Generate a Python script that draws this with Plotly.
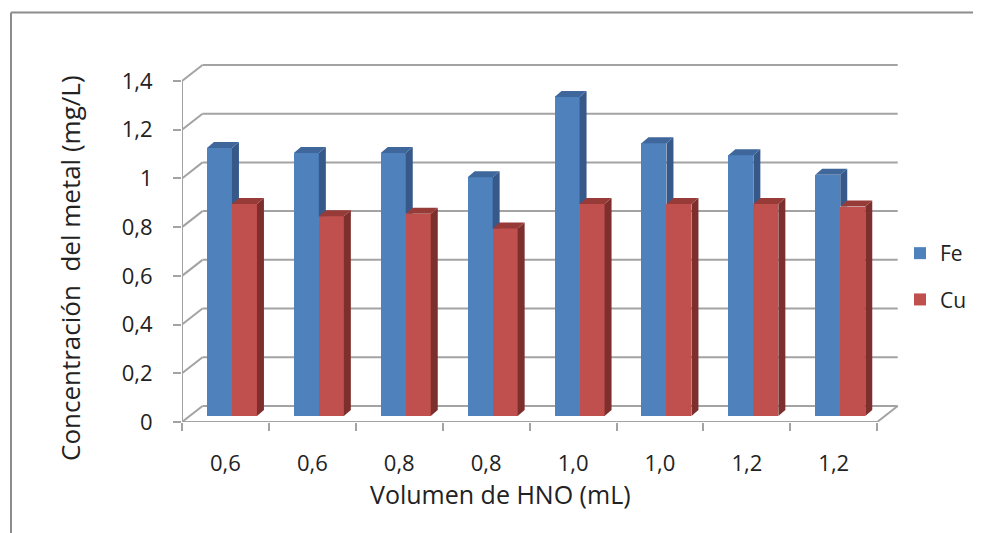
import plotly.graph_objects as go

# ---------------- data ----------------
categories = ["0,6", "0,6", "0,8", "0,8", "1,0", "1,0", "1,2", "1,2"]
fe_values = [1.10, 1.08, 1.08, 0.98, 1.31, 1.12, 1.07, 0.99]
cu_values = [0.87, 0.82, 0.83, 0.77, 0.87, 0.87, 0.87, 0.86]
y_ticks = [0, 0.2, 0.4, 0.6, 0.8, 1.0, 1.2, 1.4]
y_ticktext = ["0", "0,2", "0,4", "0,6", "0,8", "1", "1,2", "1,4"]
series_names = ["Fe", "Cu"]

# ---------------- layout geometry (pixels, page coordinates) ----------------
PAGE_W, PAGE_H = 981, 533
OFF = 8  # default body margin of the html page
W, H = PAGE_W - OFF, PAGE_H - OFF
L, R, T, B = 182, 902, 60, 422
CAT_PX = 86.9
VAL_PX = 243.6
x_range = [-0.5, -0.5 + (R - L) / CAT_PX]
y_range = [0, (B - T) / VAL_PX]

back_dx, back_dy = 20.5 / CAT_PX, 16 / VAL_PX
plane_dx, plane_dy = 6.5 / CAT_PX, 6 / VAL_PX
bar_w = 25 / CAT_PX
side_dx, side_dy = 7 / CAT_PX, 6 / VAL_PX

FONT = "Open Sans, Lato, sans-serif"
TXT = "#222222"
GRID = "#a3a3a3"

col_front = {"Fe": "#4F81BD", "Cu": "#C0504D"}
col_side = {"Fe": "#36598A", "Cu": "#7D2F2D"}
col_top = {"Fe": "#3F679B", "Cu": "#973B39"}


def px_x(p):
    return (p - L) / (R - L)


def px_y(p):
    return (B - p) / (B - T)


n = len(categories)
xs = list(range(n))
fe_x = [i + plane_dx - bar_w / 2 for i in xs]
cu_x = [i + plane_dx + bar_w / 2 for i in xs]

fig = go.Figure()

fig.add_trace(go.Bar(x=fe_x, y=fe_values, base=plane_dy, width=bar_w, name="Fe",
                     marker=dict(color=col_front["Fe"], line=dict(width=0)),
                     legendgroup="fe", hoverinfo="skip"))
fig.add_trace(go.Bar(x=cu_x, y=cu_values, base=plane_dy, width=bar_w, name="Cu",
                     marker=dict(color=col_front["Cu"], line=dict(width=0)),
                     legendgroup="cu", hoverinfo="skip"))


def poly(xp, yp, color):
    fig.add_trace(go.Scatter(x=xp + [xp[0]], y=yp + [yp[0]], mode="lines",
                             fill="toself", fillcolor=color,
                             line=dict(width=0, color=color),
                             showlegend=False, hoverinfo="skip"))


for i in xs:
    b = plane_dy
    xl, xr = fe_x[i] - bar_w / 2, fe_x[i] + bar_w / 2
    v, vc = fe_values[i], cu_values[i]
    ylow = b + min(vc, v)
    poly([xr, xr + side_dx, xr + side_dx, xr],
         [ylow, ylow, b + v + side_dy, b + v], col_side["Fe"])
    poly([xl, xl + side_dx, xr + side_dx, xr],
         [b + v, b + v + side_dy, b + v + side_dy, b + v], col_top["Fe"])
    xl, xr = cu_x[i] - bar_w / 2, cu_x[i] + bar_w / 2
    poly([xr, xr + side_dx, xr + side_dx, xr],
         [b, b + side_dy, b + vc + side_dy, b + vc], col_side["Cu"])
    poly([xl, xl + side_dx, xr + side_dx, xr],
         [b + vc, b + vc + side_dy, b + vc + side_dy, b + vc], col_top["Cu"])

shapes = []
line_style = dict(color=GRID, width=2)
x_lo, x_hi = -0.5, n - 0.5
for t in y_ticks:
    shapes.append(dict(type="line", xref="x", yref="y", layer="below",
                       x0=x_lo + back_dx, x1=x_hi + back_dx,
                       y0=t + back_dy, y1=t + back_dy, line=line_style))
    shapes.append(dict(type="line", xref="x", yref="y", layer="below",
                       x0=x_lo, x1=x_lo + back_dx, y0=t, y1=t + back_dy,
                       line=line_style))
shapes.append(dict(type="line", xref="x", yref="y", layer="below",
                   x0=x_lo, x1=x_lo, y0=0, y1=y_ticks[-1], line=line_style))
shapes.append(dict(type="line", xref="x", yref="y", layer="below",
                   x0=x_lo, x1=x_hi, y0=0, y1=0, line=line_style))
shapes.append(dict(type="line", xref="x", yref="y", layer="below",
                   x0=x_hi, x1=x_hi + back_dx, y0=0, y1=back_dy, line=line_style))
# outer frame: only top and left edges are visible in the reference
frame_style = dict(color="#8c8c8c", width=2)
shapes.append(dict(type="line", xref="paper", yref="paper",
                   x0=px_x(11), x1=px_x(PAGE_W + 5), y0=px_y(12.5), y1=px_y(12.5),
                   line=frame_style))
shapes.append(dict(type="line", xref="paper", yref="paper",
                   x0=px_x(11), x1=px_x(11), y0=px_y(12.5), y1=px_y(PAGE_H + 5),
                   line=frame_style))

fig.update_layout(
    width=W, height=H,
    margin=dict(l=L - OFF, r=PAGE_W - R, t=T - OFF, b=PAGE_H - B, pad=0,
                autoexpand=False),
    paper_bgcolor="white", plot_bgcolor="white",
    barmode="overlay", bargap=0,
    showlegend=True,
    legend=dict(x=px_x(900), y=px_y(233), xanchor="left", yanchor="top",
                font=dict(family=FONT, size=21, color=TXT),
                tracegroupgap=16, bgcolor="rgba(0,0,0,0)"),
    shapes=shapes,
    font=dict(family=FONT, size=21, color=TXT),
    annotations=[
        dict(text="Volumen de HNO (mL)", xref="paper", yref="paper",
             x=px_x(500), y=px_y(494), xanchor="center", yanchor="middle",
             showarrow=False, font=dict(family=FONT, size=25, color=TXT)),
        dict(text="Concentración  del metal (mg/L)", xref="paper", yref="paper",
             x=px_x(70), y=px_y(268), xanchor="center", yanchor="middle",
             textangle=-90, showarrow=False,
             font=dict(family=FONT, size=26, color=TXT)),
    ],
)

fig.update_xaxes(range=x_range, showgrid=False, zeroline=False, showline=False,
                 tickmode="array", tickvals=xs, ticktext=categories,
                 ticks="", ticklabelstandoff=26,
                 tickfont=dict(family=FONT, size=22, color=TXT),
                 minor=dict(tickmode="array", tickvals=[k - 0.5 for k in range(n + 1)],
                            ticks="outside", ticklen=8, tickwidth=2, tickcolor=GRID,
                            showgrid=False))
fig.update_yaxes(range=y_range, showgrid=False, zeroline=False, showline=False,
                 tickmode="array", tickvals=y_ticks, ticktext=y_ticktext,
                 ticks="outside", ticklen=8, tickwidth=2, tickcolor=GRID,
                 ticklabelstandoff=16,
                 tickfont=dict(family=FONT, size=22, color=TXT))

fig.write_html("out.html")
